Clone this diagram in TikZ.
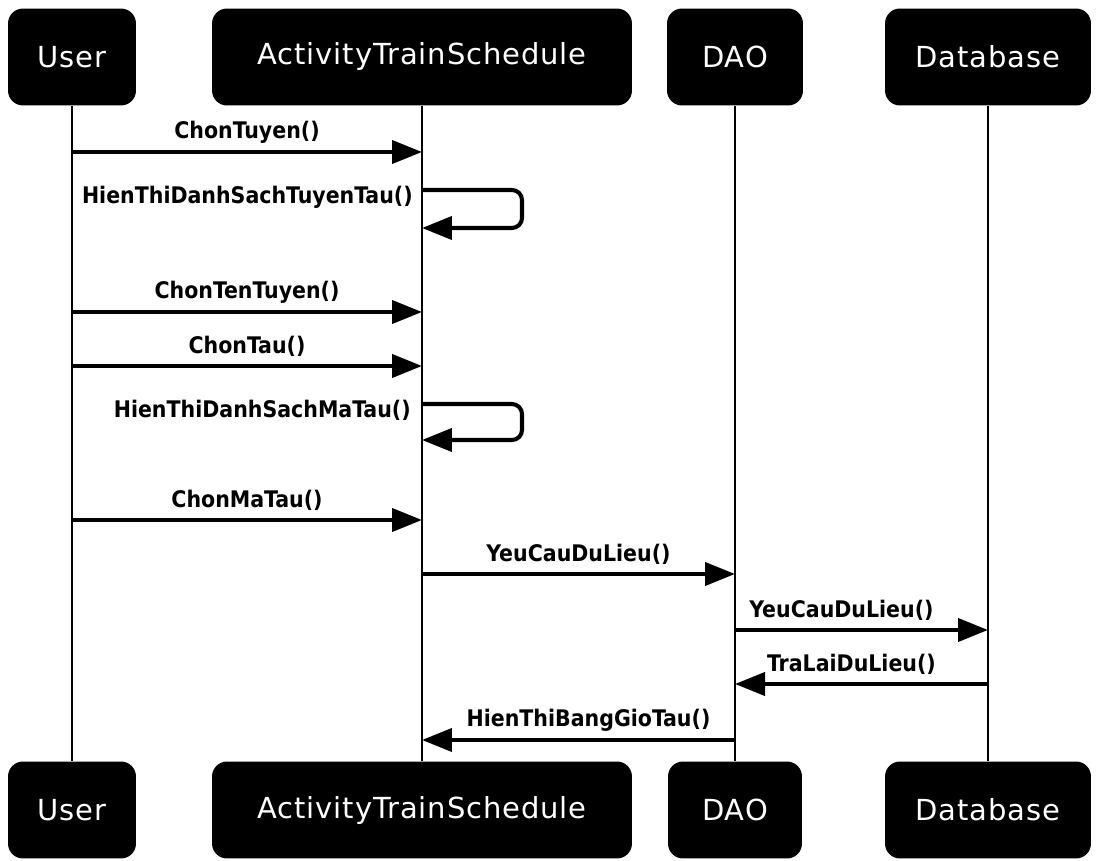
\documentclass[tikz,border=0pt]{standalone}
\usepackage{fontspec}
\setmainfont{DejaVu Sans}
\newfontfamily\msgfont{DejaVu Sans Condensed}
\newfontfamily\actorfont[LetterSpace=3]{DejaVu Sans}
\usetikzlibrary{arrows.meta}

\begin{document}
\begin{tikzpicture}[x=0.02cm,y=-0.02cm]
    \tikzstyle{every node}+=[inner sep=0pt]
    \tikzstyle{actor}=[fill=black,text=white,rounded corners=0.3cm,minimum height=1.94cm,font=\actorfont\fontsize{16.5}{20}\selectfont]
    \tikzstyle{lifeline}=[line width=1.1pt]
    \tikzstyle{msg}=[line width=2.3pt,-{Triangle[length=0.6cm,width=0.46cm]}]
    \tikzstyle{lbl}=[font=\msgfont\bfseries\fontsize{13}{15}\selectfont]
    \useasboundingbox (0,0) rectangle (1106,861);
    % actors, top and bottom
    \node[actor,minimum width=2.56cm] (userTop) at (72,57) {User};
    \node[actor,minimum width=8.4cm] (actTop) at (422,57) {ActivityTrainSchedule};
    \node[actor,minimum width=2.72cm] (daoTop) at (735,57) {DAO};
    \node[actor,minimum width=4.12cm] (dbTop) at (988,57) {Database};
    \node[actor,minimum width=2.56cm] (userBot) at (72,810) {User};
    \node[actor,minimum width=8.4cm] (actBot) at (422,810) {ActivityTrainSchedule};
    \node[actor,minimum width=2.68cm] (daoBot) at (735,810) {DAO};
    \node[actor,minimum width=4.12cm] (dbBot) at (988,810) {Database};
    % lifelines
    \draw[lifeline] (userTop) -- (userBot);
    \draw[lifeline] (actTop) -- (actBot);
    \draw[lifeline] (daoTop) -- (daoBot);
    \draw[lifeline] (dbTop) -- (dbBot);
    % messages
    \draw[msg] (userTop |- 0,152) -- node[lbl,above=4pt] {ChonTuyen()} (actTop |- 0,152);
    \draw[msg,rounded corners=0.2cm] (actTop |- 0,190) -- (522,190) -- (522,228) -- (actTop |- 0,228);
    \node[lbl,anchor=east] (loopA) at (413,197) {HienThiDanhSachTuyenTau()};
    \draw[msg] (userTop |- 0,312) -- node[lbl,above=4pt] {ChonTenTuyen()} (actTop |- 0,312);
    \draw[msg] (userTop |- 0,366) -- node[lbl,above=4pt] {ChonTau()} (actTop |- 0,366);
    \draw[msg,rounded corners=0.2cm] (actTop |- 0,404) -- (522,404) -- (522,440) -- (actTop |- 0,440);
    \node[lbl,anchor=east] (loopB) at (411,410) {HienThiDanhSachMaTau()};
    \draw[msg] (userTop |- 0,520) -- node[lbl,above=4pt] {ChonMaTau()} (actTop |- 0,520);
    \draw[msg] (actTop |- 0,574) -- node[lbl,above=4pt] {YeuCauDuLieu()} (daoTop |- 0,574);
    \draw[msg] (daoTop |- 0,630) -- node[lbl,above=4pt,xshift=-0.4cm] {YeuCauDuLieu()} (dbTop |- 0,630);
    \draw[msg] (dbTop |- 0,684) -- node[lbl,above=4pt,xshift=-0.2cm] {TraLaiDuLieu()} (daoTop |- 0,684);
    \draw[msg] (daoTop |- 0,740) -- node[lbl,above=4pt,xshift=0.2cm] {HienThiBangGioTau()} (actTop |- 0,740);
\end{tikzpicture}
\end{document}
